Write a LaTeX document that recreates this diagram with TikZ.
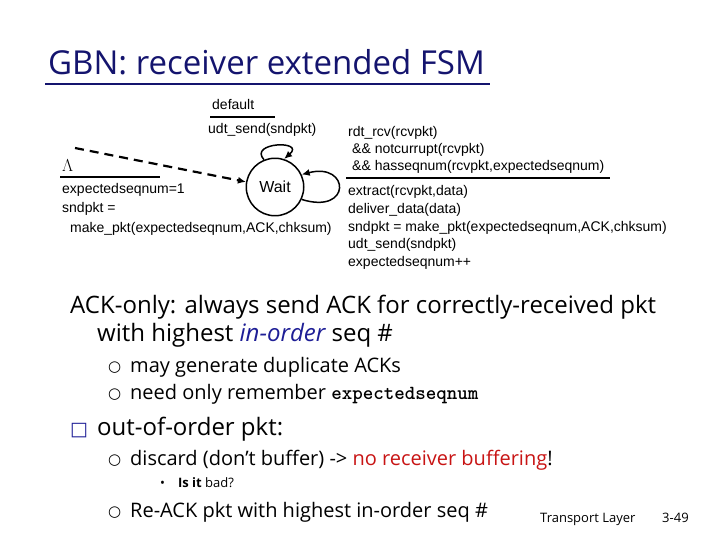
\documentclass[tikz,border=0pt]{standalone}
\usepackage{fontspec}
\setmainfont{Open Sans}
\newfontfamily\arial{Liberation Sans}
\newfontfamily\djv{DejaVu Sans}
\usetikzlibrary{arrows.meta}
\definecolor{ttl}{RGB}{20,20,110}
\definecolor{blu}{RGB}{30,30,150}
\definecolor{rd}{RGB}{200,20,20}
\tikzset{
 fsm/.style={font=\arial\fontsize{14}{16}\selectfont,anchor=base west,inner sep=0pt},
 body/.style={font=\fontsize{24}{28}\selectfont,anchor=base west,inner sep=0pt},
 sub/.style={font=\fontsize{20}{24}\selectfont,anchor=base west,inner sep=0pt},
 circb/.style={font=\djv\fontsize{15}{16}\selectfont,anchor=base west,inner sep=0pt},
 arr/.style={line width=1.5pt,-{Latex[length=8pt,width=7pt]}},
}
\begin{document}
\begin{tikzpicture}[x=1pt,y=-1pt]
\useasboundingbox (0,0) rectangle (720,540);
\node[anchor=base west,inner sep=0pt,text=ttl,font=\fontsize{33}{36}\selectfont] (title) at (48,75) {GBN: receiver extended FSM};
\draw[ttl,line width=1.4pt] (45,84) -- (490,84);
% FSM
\node[draw,circle,line width=1.5pt,inner sep=9pt,font=\arial\fontsize{16}{18}\selectfont] (wc) at (275,187) {Wait};
\coordinate (ds) at (75,148);
\draw[arr,dash pattern=on 9pt off 6pt,line width=2.2pt] (ds) -- (wc.170);
\draw[arr] (wc.112) .. controls (248,142) and (306,140) .. (wc.72);
\draw[arr] (wc.-25) .. controls (352,215) and (350,162) .. (wc.25);
\node[fsm,font=\fontsize{19}{20}\selectfont] (lam) at (62,172) {$\Lambda$};
\draw[line width=1.3pt] (60,177) -- (160,177);
\node[fsm] (e1) at (62,194) {expectedseqnum=1};
\node[fsm] (e2) at (62,213) {sndpkt =};
\node[fsm] (e3) at (70,233) {make\_pkt(expectedseqnum,ACK,chksum)};
\node[fsm] (d1) at (212,110) {default};
\draw[line width=1.3pt] (210,117) -- (275,117);
\node[fsm] (d2) at (208,134) {udt\_send(sndpkt)};
\node[fsm] (r1) at (348,137) {rdt\_rcv(rcvpkt)};
\node[fsm] (r2) at (352,154) {\&\& notcurrupt(rcvpkt)};
\node[fsm] (r3) at (352,171) {\&\& hasseqnum(rcvpkt,expectedseqnum)};
\draw[line width=1.3pt] (346,178) -- (610,178);
\node[fsm] (a1) at (348,196) {extract(rcvpkt,data)};
\node[fsm] (a2) at (348,214) {deliver\_data(data)};
\node[fsm] (a3) at (348,231) {sndpkt = make\_pkt(expectedseqnum,ACK,chksum)};
\node[fsm] (a4) at (348,248) {udt\_send(sndpkt)};
\node[fsm] (a5) at (348,266) {expectedseqnum++};
% body
\node[body] (b1) at (70,313) {ACK-only: always send ACK for correctly-received pkt};
\node[body] (b2) at (97,341) {with highest \textcolor{blu}{\itshape in-order} seq \#};
\node[circb] (c1) at (108,371) {○};
\node[sub] (b3) at (130,372) {may generate duplicate ACKs};
\node[circb] (c2) at (108,398) {○};
\node[sub] (b4) at (130,399) {need only remember {\ttfamily\bfseries expectedseqnum}};
\node[body,font=\djv\fontsize{19}{20}\selectfont,text=blu] (sq) at (70,435) {□};
\node[body] (b5) at (97,435) {out-of-order pkt:};
\node[circb] (c3) at (108,464) {○};
\node[sub] (b6) at (130,465) {discard (don’t buffer) -> \textcolor{rd}{no receiver buffering}!};
\node[body,font=\fontsize{13}{14}\selectfont] (b7) at (160,487) {•\quad\textbf{Is it} bad?};
\node[circb] (c4) at (108,516) {○};
\node[sub] (b8) at (130,517) {Re-ACK pkt with highest in-order seq \#};
\node[body,font=\fontsize{13}{14}\selectfont] (f1) at (540,522) {Transport Layer};
\node[body,font=\fontsize{13}{14}\selectfont] (f2) at (662,522) {3-49};
\end{tikzpicture}
\end{document}
